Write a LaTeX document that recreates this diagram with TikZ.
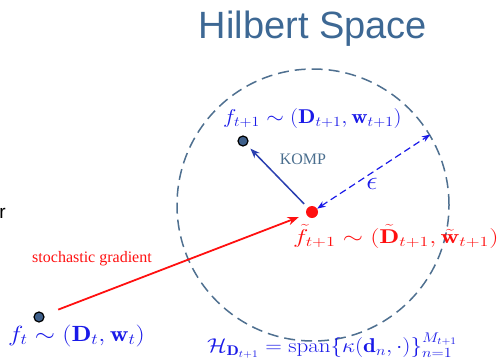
\RequirePackage{fix-cm}
\documentclass[tikz,border=0pt]{standalone}
\usepackage{amsmath}
\usepackage{graphicx}
\usepackage{fontspec}
\usepackage{tikz}
\usetikzlibrary{arrows.meta}
\newfontfamily\titlefont{Liberation Sans}
\newfontfamily\notefont{Liberation Serif}
\definecolor{titleblue}{HTML}{3D6894}
\definecolor{ringgray}{HTML}{4F7090}
\definecolor{dotblue}{HTML}{3E5F8A}
\definecolor{mathblue}{HTML}{1A1AE8}
\definecolor{kompblue}{HTML}{2A3FB0}
\definecolor{komptext}{HTML}{4A6E8E}
\definecolor{gradred}{HTML}{FF1010}
\newcommand{\widemath}[2]{\scalebox{#1}[1]{$#2$}}
\tikzset{
  hdot/.style={circle,draw=black,fill=dotblue,line width=1.2pt,inner sep=0pt,minimum size=10pt},
  rdot/.style={circle,fill=gradred,inner sep=0pt,minimum size=12pt},
  hring/.style={circle,draw=ringgray,line width=1.5pt,dash pattern=on 11pt off 6pt,inner sep=0pt,minimum size=272pt},
  mathlbl/.style={font=\fontsize{20}{24}\selectfont,inner sep=0pt,anchor=base west},
  notelbl/.style={font=\notefont\fontsize{16}{18}\selectfont,inner sep=0pt}
}
\begin{document}
\begin{tikzpicture}[x=1pt,y=-1pt,>=Stealth]
  \useasboundingbox (0,0) rectangle (500,362);
  % title and clipped slide text
  \node[anchor=base,text=titleblue,font=\titlefont\fontsize{38}{40}\selectfont,inner sep=0pt] (title) at (313,38) {Hilbert Space};
  \node[anchor=base east,font=\titlefont\fontsize{19}{20}\selectfont,inner sep=0pt] (cut) at (6,218) {r};
  % the ball and the points
  \node[hring] (hs) at (313,205) {};
  \node[hdot] (ft) at (39,317) {};
  \node[hdot] (fnext) at (243,141) {};
  \node[rdot] (ftil) at (312,212) {};
  % steps
  \draw[->,gradred,line width=1.8pt,shorten <=15pt,shorten >=8pt] (ft) -- (ftil);
  \draw[->,kompblue,line width=1.5pt,shorten <=5pt,shorten >=5pt] (ftil) -- (fnext);
  \draw[<->,mathblue,line width=1.2pt,dash pattern=on 7pt off 4pt] (ftil) -- (hs.31);
  % labels
  \node[notelbl,text=gradred] (sg) at (92,259) {stochastic gradient};
  \node[notelbl,text=komptext] (komp) at (303,159) {KOMP};
  \node[mathlbl,text=mathblue,anchor=center,font=\fontsize{26}{30}\selectfont] (eps) at (372,184) {\widemath{1.1}{\epsilon}};
  \node[mathlbl,text=mathblue] (lnext) at (223,123) {\widemath{1.13}{f_{t+1}\sim(\mathbf{D}_{t+1},\mathbf{w}_{t+1})}};
  \node[mathlbl,text=gradred] (ltil) at (293,243) {\widemath{1.3}{\tilde{f}_{t+1}\sim(\tilde{\mathbf{D}}_{t+1},\tilde{\mathbf{w}}_{t+1})}};
  \node[mathlbl,text=mathblue,font=\fontsize{22}{26}\selectfont] (lt) at (8,341) {\widemath{1.18}{f_t\sim(\mathbf{D}_t,\mathbf{w}_t)}};
  \node[mathlbl,text=mathblue] (lspan) at (207,352) {\widemath{1.15}{\mathcal{H}_{\mathbf{D}_{t+1}}=\mathrm{span}\{\kappa(\mathbf{d}_n,\cdot)\}_{n=1}^{M_{t+1}}}};
\end{tikzpicture}
\end{document}
